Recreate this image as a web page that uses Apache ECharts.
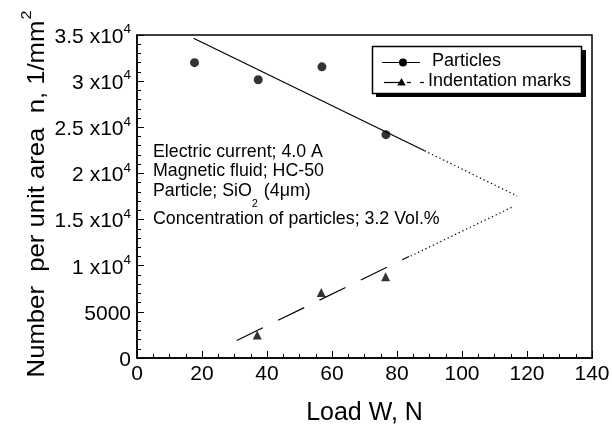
<!DOCTYPE html>
<html>
<head>
<meta charset="utf-8">
<script src="https://cdn.jsdelivr.net/npm/echarts@6/dist/echarts.min.js"></script>
<style>html,body{margin:0;padding:0;background:#fff;}#c{width:612px;height:426px;}</style>
</head>
<body>
<div id="c"></div>
<script>
// ---- data ----
const xTicks = [0, 20, 40, 60, 80, 100, 120, 140];
const yTicks = [0, 5000, 10000, 15000, 20000, 25000, 30000, 35000];
const yTickMantissa = ['0', '5000', '1', '1.5', '2', '2.5', '3', '3.5'];
const yTickExponent = ['', '', '4', '4', '4', '4', '4', '4'];

const particleLoad = [17.7, 37.3, 56.9, 76.6];
const particleCount = [32000, 30150, 31550, 24200];
const markLoad = [37.0, 56.7, 76.5];
const markCount = [2500, 7100, 8800];

const particleFitSolidLoad = [17.4, 88.5];
const particleFitSolidCount = [34650, 22450];
const particleFitDottedLoad = [88.5, 117.0];
const particleFitDottedCount = [22450, 17550];
const markFitDashedLoad = [30.7, 83.7];
const markFitDashedCount = [1900, 11000];
const markFitDottedLoad = [84.2, 116.0];
const markFitDottedCount = [11050, 16450];

const annotationLines = ['Electric current; 4.0 A', 'Magnetic fluid; HC-50', 'Particle; SiO|2| (4\u03bcm)', 'Concentration of particles; 3.2 Vol.%'];
const legendNames = ['Particles', 'Indentation marks'];

// ---- helpers ----
const pairs = (xs, ys) => xs.map((x, i) => [x, ys[i]]);
const FONT = 'Liberation Sans, Arial, Helvetica, sans-serif';

const chart = echarts.init(document.getElementById('c'), null, {renderer: 'canvas'});

function annoText(line) {
  const parts = line.split('|');
  if (parts.length === 1) return '{a|' + line + '}';
  return '{a|' + parts[0] + '}{b|' + parts[1] + '}{a|' + parts[2] + '}';
}
const annoY = [153.5, 172.5, 182.5, 220];

const graphics = [];
annotationLines.forEach((line, i) => {
  const rich = line.indexOf('|') >= 0;
  graphics.push({
    type: 'text', x: 153, y: annoY[i], silent: true,
    style: {
      text: annoText(line),
      fill: '#000',
      verticalAlign: rich ? 'top' : 'middle',
      align: 'left',
      rich: {
        a: {fontSize: 17.8, fontFamily: FONT, lineHeight: 20, verticalAlign: 'top', fill: '#000'},
        b: {fontSize: 11, fontFamily: FONT, lineHeight: 11, verticalAlign: 'top', padding: [15.5, 1, 0, 0], fill: '#000'}
      }
    }
  });
});

// y axis title (rotated)
graphics.push({
  type: 'text', x: 34, y: 194, rotation: Math.PI / 2, scaleX: 1.07, silent: true,
  style: {
    text: '{a|Number  per unit area  n, 1/mm}{s|2}',
    align: 'center', verticalAlign: 'middle',
    rich: {
      a: {fontSize: 24, fontFamily: FONT, lineHeight: 30, verticalAlign: 'bottom', fill: '#000'},
      s: {fontSize: 15, fontFamily: FONT, lineHeight: 15, verticalAlign: 'top', padding: [0, 0, 0, 1], fill: '#000'}
    }
  }
});

// legend box with shadow
graphics.push({type: 'rect', shape: {x: 376, y: 50, width: 210, height: 47}, style: {fill: '#000'}, silent: true});
graphics.push({type: 'rect', shape: {x: 372.5, y: 46.5, width: 209, height: 47}, style: {fill: '#fff', stroke: '#000', lineWidth: 1.5}, silent: true});
// legend row 1
graphics.push({type: 'line', shape: {x1: 382, y1: 62.5, x2: 420, y2: 62.5}, style: {stroke: '#000', lineWidth: 1.2}, silent: true});
graphics.push({type: 'circle', shape: {cx: 403, cy: 62.5, r: 4}, style: {fill: '#000'}, silent: true});
graphics.push({type: 'text', x: 432, y: 61.5, silent: true, style: {text: legendNames[0], fontSize: 18, fontFamily: FONT, fill: '#000', verticalAlign: 'middle'}});
// legend row 2
graphics.push({type: 'line', shape: {x1: 384, y1: 82.5, x2: 400, y2: 82.5}, style: {stroke: '#000', lineWidth: 1.2}, silent: true});
graphics.push({type: 'polygon', shape: {points: [[401.5, 78], [405.7, 85.5], [397.3, 85.5]]}, style: {fill: '#000'}, silent: true});
graphics.push({type: 'line', shape: {x1: 407, y1: 82.5, x2: 411, y2: 82.5}, style: {stroke: '#000', lineWidth: 1.2}, silent: true});
graphics.push({type: 'line', shape: {x1: 420, y1: 82.5, x2: 424, y2: 82.5}, style: {stroke: '#000', lineWidth: 1.2}, silent: true});
graphics.push({type: 'text', x: 428, y: 81.5, silent: true, style: {text: legendNames[1], fontSize: 18, fontFamily: FONT, fill: '#000', verticalAlign: 'middle'}});

const option = {
  animation: false,
  backgroundColor: '#fff',
  textStyle: {fontFamily: FONT, color: '#000'},
  grid: {left: 137, right: 20, top: 35, bottom: 68, containLabel: false, outerBoundsMode: 'none',
    show: true, borderColor: '#000', borderWidth: 1.5, backgroundColor: 'transparent'},
  xAxis: {
    type: 'value', min: xTicks[0], max: xTicks[xTicks.length - 1], interval: 20,
    axisLine: {show: true, onZero: false, lineStyle: {color: '#000', width: 1.5}},
    axisTick: {show: true, inside: true, length: 7, lineStyle: {color: '#000', width: 1}},
    minorTick: {show: true, splitNumber: 4, length: 4, lineStyle: {color: '#000', width: 1}},
    splitLine: {show: false},
    axisLabel: {color: '#000', fontSize: 21, fontFamily: FONT, margin: 6,
      formatter: v => String(xTicks[xTicks.indexOf(v)])},
    name: 'Load W, N', nameLocation: 'middle', nameGap: 43,
    nameTextStyle: {fontSize: 25, fontFamily: FONT, color: '#000'}
  },
  yAxis: {
    type: 'value', min: yTicks[0], max: yTicks[yTicks.length - 1], interval: 5000,
    axisLine: {show: true, onZero: false, lineStyle: {color: '#000', width: 1.5}},
    axisTick: {show: true, inside: true, length: 7, lineStyle: {color: '#000', width: 1}},
    minorTick: {show: true, splitNumber: 5, length: 4, lineStyle: {color: '#000', width: 1}},
    splitLine: {show: false},
    axisLabel: {
      color: '#000', fontSize: 21, fontFamily: FONT, margin: 6,
      formatter: v => {
        const i = yTicks.indexOf(v);
        if (i < 0) return '';
        if (!yTickExponent[i]) return '{n|' + yTickMantissa[i] + '}';
        return '{n|' + yTickMantissa[i] + ' x10}{s|' + yTickExponent[i] + '}';
      },
      rich: {
        n: {fontSize: 21, fontFamily: FONT, lineHeight: 25, verticalAlign: 'bottom', color: '#000'},
        s: {fontSize: 13.5, fontFamily: FONT, lineHeight: 13.5, verticalAlign: 'top', color: '#000'}
      }
    }
  },
  series: [
    {type: 'line', data: pairs(particleFitSolidLoad, particleFitSolidCount), showSymbol: false, silent: true,
      lineStyle: {color: '#000', width: 1.2, type: 'solid'}},
    {type: 'line', data: pairs(particleFitDottedLoad, particleFitDottedCount), showSymbol: false, silent: true,
      lineStyle: {color: '#000', width: 1.2, type: [1.3, 2.8]}},
    {type: 'line', data: pairs(markFitDashedLoad, markFitDashedCount), showSymbol: false, silent: true,
      lineStyle: {color: '#000', width: 1.2, type: [29, 17]}},
    {type: 'line', data: pairs(markFitDottedLoad, markFitDottedCount), showSymbol: false, silent: true,
      lineStyle: {color: '#000', width: 1.2, type: [1.3, 2.8]}},
    {type: 'scatter', name: legendNames[0], data: pairs(particleLoad, particleCount), symbol: 'circle', symbolSize: 9,
      itemStyle: {color: '#000'}},
    {type: 'scatter', name: legendNames[1], data: pairs(markLoad, markCount), symbol: 'triangle', symbolSize: 9,
      itemStyle: {color: '#000'}}
  ],
  graphic: graphics
};
chart.setOption(option);
</script>
</body>
</html>
